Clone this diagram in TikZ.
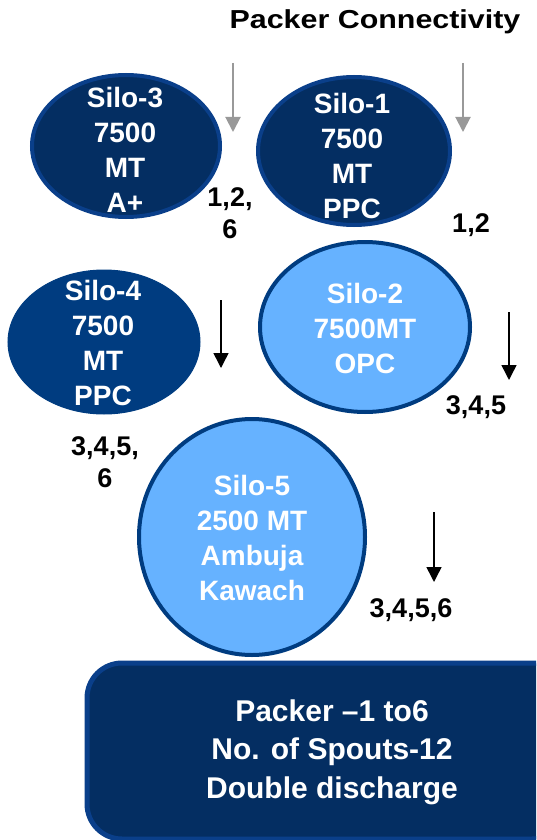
\documentclass[tikz,border=0pt]{standalone}
\usepackage{fontspec}
\setmainfont{Liberation Sans}
\newfontfamily\titlefont[FakeStretch=1.17]{Liberation Sans}
\usepackage{xcolor}
\usetikzlibrary{positioning,arrows.meta}
\usepgflibrary{shapes.geometric}
\definecolor{siloNavy}{HTML}{042E62}
\definecolor{siloRim}{HTML}{0A3F8A}
\definecolor{siloMid}{HTML}{003C80}
\definecolor{siloSky}{HTML}{66B2FF}
\definecolor{feedGrey}{HTML}{999999}
\tikzset{%
silodark/.style={ellipse,draw=siloRim,fill=siloNavy,line width=4pt,inner sep=0},
silomid/.style={ellipse,draw=siloMid,fill=siloMid,line width=1pt,inner sep=0},
silolight/.style={ellipse,draw=siloMid,fill=siloSky,line width=4pt,inner sep=0},
silotext/.style={text=white,align=center,inner sep=0,font=\fontsize{28}{35}\selectfont\bfseries},
spouts/.style={align=center,inner sep=0,font=\fontsize{27}{32}\selectfont\bfseries},
feedgrey/.style={draw=feedGrey,line width=2pt,-{Triangle[width=15pt,length=15pt]}},
feedblack/.style={draw=black,line width=1.5pt,-{Triangle[width=15pt,length=15pt]}},
packerbox/.style={draw=siloRim,fill=siloNavy,line width=5pt,rounded corners=35pt,inner sep=0}
}

\begin{document}
\begin{tikzpicture}[x=1pt,y=-1pt]

    \clip (0,0) rectangle (536,840);

    \node[font=\fontsize{26}{30}\selectfont\titlefont\bfseries,inner sep=0] (title) at (375,22) {Packer Connectivity};

    % top row
    \node[silodark,minimum width=188pt,minimum height=142pt] (s3) at (126,146) {};
    \node[silotext] (s3txt) at (125,150) {Silo-3\\7500\\MT\\A+};
    \node[silodark,minimum width=192pt,minimum height=148pt] (s1) at (354,151) {};
    \node[silotext] (s1txt) at (352,156) {Silo-1\\7500\\MT\\PPC};

    \coordinate (g3a) at (233,63);
    \coordinate (g3b) at (233,132);
    \coordinate (g1a) at (463,63);
    \coordinate (g1b) at (463,132);
    \draw[feedgrey] (g3a) -- (g3b);
    \draw[feedgrey] (g1a) -- (g1b);

    \node[spouts] (sp3) at (230,213) {1,2,\\6};
    \node[spouts] (sp1) at (471,225) {1,2};

    % middle row
    \node[silomid,minimum width=192pt,minimum height=144pt] (s4) at (104,342) {};
    \node[silotext] (s4txt) at (103,343) {Silo-4\\7500\\MT\\PPC};
    \node[silolight,minimum width=210pt,minimum height=170pt] (s2) at (365,327) {};
    \node[silotext] (s2txt) at (365,328) {Silo-2\\7500MT\\OPC};

    \coordinate (b4a) at (221,300);
    \coordinate (b4b) at (221,368);
    \coordinate (b2a) at (509,312);
    \coordinate (b2b) at (509,380);
    \draw[feedblack] (b4a) -- (b4b);
    \draw[feedblack] (b2a) -- (b2b);

    \node[spouts] (sp2) at (476,407) {3,4,5};
    \node[spouts] (sp4) at (105,462) {3,4,5,\\6};

    % bottom silo
    \node[silolight,minimum width=226pt,minimum height=236pt] (s5) at (252,537) {};
    \node[silotext] (s5txt) at (252,538) {Silo-5\\2500 MT\\Ambuja\\Kawach};

    \coordinate (b5a) at (434,512);
    \coordinate (b5b) at (434,582);
    \draw[feedblack] (b5a) -- (b5b);
    \node[spouts] (sp5) at (411,610) {3,4,5,6};

    % packer
    \node[packerbox,minimum width=480pt,minimum height=176pt] (packer) at (327,751) {};
    \node[silotext,font=\fontsize{30}{38.5}\selectfont\bfseries] (packertxt) at (332,752) {Packer --1 to6\\No. of Spouts-12\\Double discharge};

\end{tikzpicture}
\end{document}
